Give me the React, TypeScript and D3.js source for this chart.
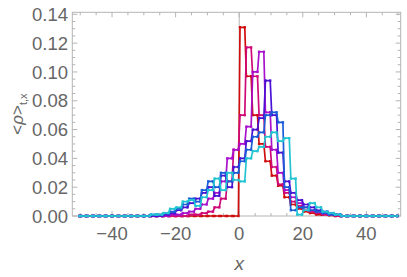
import React from "react";
import * as d3 from "d3";

// bin starts (width 2) for the listed values
const BIN_STARTS = [-32,-30,-28,-26,-24,-22,-20,-18,-16,-14,-12,-10,-8,-6,-4,-2,0,2,4,6,8,10,12,14,16,18,20,22,24,26,28,30,32];

const redVals = [0,0,0,0,0,0,0,0,0,0,0,0,0,0,0,0,
  0.131,0.097,0.070,0.050,0.038,0.028,0.021,0.013,0.008,0.005,0.003,0.002,0.001,0.001,0.0005,0,0];
const crimsonVals = [0,0,0,0,0,0,0,0,0.001,0.001,0.002,
  0.003,0.006,0.012,0.024,0.046,0.070,0.117,0.097,0.070,0.048,0.034,0.022,0.016,0.010,0.007,0.004,0.003,0.002,0.001,0.001,0,0];
const purpleVals = [0,0,0,0,0,0.001,0.001,0.002,
  0.003,0.005,0.008,0.012,0.016,0.024,0.040,0.046,0.050,0.062,0.100,0.114,0.072,0.046,0.030,0.018,0.013,0.009,0.006,0.004,0.003,0.002,0.001,0.001,0];
const violetVals = [0,0,0,0,0.001,
  0.002,0.004,0.006,0.009,0.012,0.016,0.020,0.014,0.028,0.020,0.034,0.040,0.052,0.060,0.068,0.094,0.070,0.044,0.024,0.016,0.011,0.008,0.006,0.004,0.003,0.002,0.001,0];
const blueVals = [0,0,0.001,0.001,
  0.002,0.003,0.005,0.008,0.012,0.010,0.018,0.024,0.020,0.030,0.024,0.030,0.038,0.046,0.055,0.058,0.070,0.072,0.065,0.020,0.004,0.006,0.006,0.004,0.003,0.002,0.001,0.001,0];
const cyanVals = [0,0,0.001,0.001,0.002,0.005,0.006,0.010,0.011,0.007,0.013,0.018,0.026,0.018,0.030,0.025,
  0.024,0.040,0.045,0.048,0.055,0.058,0.052,0.054,0.026,0.001,0.004,0.009,0.006,0.003,0.002,0.001,0];

const SERIES = [
  { name: "t1", color: "#d00c0c", values: redVals },
  { name: "t2", color: "#cf0a78", values: crimsonVals },
  { name: "t3", color: "#a810cc", values: purpleVals },
  { name: "t4", color: "#4a12d4", values: violetVals },
  { name: "t5", color: "#1a5cd8", values: blueVals },
  { name: "t6", color: "#22c4d2", values: cyanVals },
];

const X_TICKS = [-40, -20, 0, 20, 40];
const Y_TICKS = [0, 0.02, 0.04, 0.06, 0.08, 0.1, 0.12, 0.14];
const X_MINOR = d3.range(-50, 51, 5);
const Y_MINOR = d3.range(0, 0.1401, 0.005);
const DATA_MIN = -50.8;
const DATA_MAX = 50;

export default function App() {
  const W = 407, H = 277;
  const L = 72.3, R = 400.7, T = 12.3, B = 216;
  const x = d3.scaleLinear().domain([-52.5, 50.8]).range([L, R]);
  const y = d3.scaleLinear().domain([0, 0.1414]).range([B, T]);
  const frame = "#b4b4b4";
  const txt = "#666666";
  const font = "'Liberation Sans', Arial, sans-serif";

  const seriesPoints = (vals: number[]) => {
    const map = new Map<number, number>();
    BIN_STARTS.forEach((b, i) => map.set(b, vals[i]));
    const pts: [number, number][] = [];
    for (let b = -52; b <= 50; b += 2) {
      const v = map.get(b) ?? 0;
      [b + 0.25, b + 1.75].forEach(u => {
        if (u >= DATA_MIN && u <= DATA_MAX) pts.push([u, v]);
      });
    }
    return pts;
  };
  const line = d3.line<[number, number]>().x(d => x(d[0])).y(d => y(d[1]));

  return (
    <svg width={W} height={H} style={{ position: "absolute", left: 0, top: 0, background: "#fff" }}>
      <defs>
        <clipPath id="plot"><rect x={L} y={T - 2} width={R - L} height={B - T + 5} /></clipPath>
      </defs>
      {/* frame */}
      <rect x={L} y={T} width={R - L} height={B - T} fill="none" stroke={frame} strokeWidth={1} />
      {X_MINOR.map(t => {
        const major = t % 20 === 0;
        const len = major ? 5 : 3;
        return (
          <g key={"xt" + t}>
            <line x1={x(t)} x2={x(t)} y1={B} y2={B - len} stroke={frame} />
            <line x1={x(t)} x2={x(t)} y1={T} y2={T + len} stroke={frame} />
          </g>
        );
      })}
      {Y_MINOR.map((t, i) => {
        const major = i % 4 === 0;
        const len = major ? 5 : 3;
        return (
          <g key={"yt" + i}>
            <line x1={L} x2={L + len} y1={y(t)} y2={y(t)} stroke={frame} />
            <line x1={R} x2={R - len} y1={y(t)} y2={y(t)} stroke={frame} />
          </g>
        );
      })}
      {/* axis at x=0 */}
      <line x1={x(0)} x2={x(0)} y1={T} y2={B} stroke={frame} strokeWidth={1} />
      <g clipPath="url(#plot)">
        {SERIES.map(s => {
          const pts = seriesPoints(s.values);
          return (
            <g key={s.name}>
              <path d={line(pts) || ""} fill="none" stroke={s.color} strokeWidth={1.7} strokeLinejoin="round" />
              {pts.map((p, i) => (
                <rect key={i} x={x(p[0]) - 1.2} y={y(p[1]) - 1.2} width={2.4} height={2.4} fill={s.color} />
              ))}
            </g>
          );
        })}
      </g>
      {X_TICKS.map(t => (
        <text key={"xl" + t} x={x(t)} y={240} textAnchor="middle" fontSize={18.5} fill={txt} fontFamily={font}>
          {t < 0 ? "\u2212" + Math.abs(t) : String(t)}
        </text>
      ))}
      {Y_TICKS.map(t => (
        <text key={"yl" + t} x={68} y={y(t)} dy="0.36em" textAnchor="end" fontSize={18.5} fill={txt} fontFamily={font}>
          {t.toFixed(2)}
        </text>
      ))}
      <text x={x(0)} y={270} textAnchor="middle" fontSize={19} fontStyle="italic" fill={txt} fontFamily={font}>x</text>
      <text transform={`translate(23, 114) rotate(-90)`} textAnchor="middle" fontSize={17} fill={txt} fontFamily={font}>
        {"<"}<tspan fontStyle="italic">ρ</tspan>{">"}
        <tspan fontSize={11} dy="4">t,x</tspan>
      </text>
    </svg>
  );
}
